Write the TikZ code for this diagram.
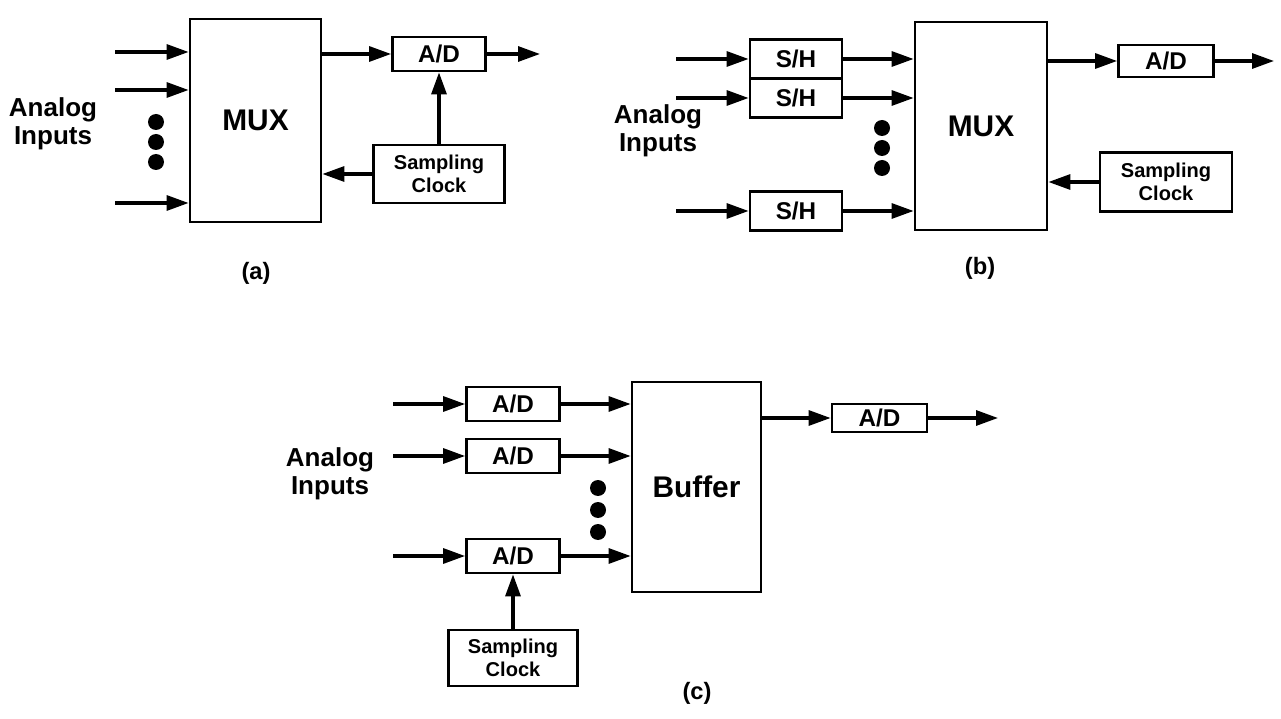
\documentclass[tikz,border=0pt]{standalone}
\usepackage{fontspec}
\setmainfont{Liberation Sans}
\usetikzlibrary{positioning,arrows.meta}

\begin{document}
\begin{tikzpicture}[
    x=0.02cm, y=-0.02cm,
    box/.style={
        draw,
        line width=1.6pt,
        minimum width=1.86cm,
        minimum height=0.68cm,
        inner sep=0pt,
        font=\fontsize{13.8}{15}\selectfont\bfseries
    },
    bigbox/.style={
        draw,
        line width=1.6pt,
        inner sep=0pt,
        font=\fontsize{17}{20}\selectfont\bfseries
    },
    clkbox/.style={
        draw,
        line width=1.6pt,
        minimum width=2.62cm,
        minimum height=1.16cm,
        inner sep=0pt,
        align=center,
        font=\fontsize{11.4}{13}\selectfont\bfseries
    },
    bigdot/.style={
        circle,
        fill,
        inner sep=0pt,
        minimum size=0.32cm
    },
    inlabel/.style={
        align=center,
        font=\fontsize{14.8}{16}\selectfont\bfseries
    },
    caption/.style={
        font=\fontsize{13.5}{15}\selectfont\bfseries
    },
    arr/.style={
        -{Triangle[length=4.4mm,width=3mm]},
        line width=1.8pt
    }
]
\useasboundingbox (0,0) rectangle (1281,719);

% ============================================================
% (a) MUX THEN ONE A/D
% ============================================================

\node[bigbox, minimum width=2.62cm, minimum height=4.06cm] (muxa) at (255.5,120.5)
{MUX};

\node[box] (ada) at (439,54)
{A/D};

\node[clkbox] (clka) at (439,174)
{Sampling\\Clock};

\node[inlabel] (ina) at (53,124)
{Analog\\Inputs};

\coordinate (ina1) at (115,52);
\coordinate (ina2) at (115,90);
\coordinate (ina3) at (115,203);
\coordinate (outa) at (540,54);

\draw[arr] (ina1) -- (ina1 -| muxa.west);
\draw[arr] (ina2) -- (ina2 -| muxa.west);
\draw[arr] (ina3) -- (ina3 -| muxa.west);

\node[bigdot] (dota1) at (156,122) {};
\node[bigdot] (dota2) at (156,142) {};
\node[bigdot] (dota3) at (156,162) {};

\draw[arr] (ada.west -| muxa.east) -- (ada.west);
\draw[arr] (ada.east) -- (outa);
\draw[arr] (clka.north) -- (ada.south);
\draw[arr] (clka.west) -- (clka.west -| muxa.east);

\node[caption] (capa) at (256,273)
{(a)};

% ============================================================
% (b) S/H ON EACH INPUT, THEN MUX AND A/D
% ============================================================

\node[box, minimum width=1.84cm, minimum height=0.78cm] (sh1) at (796,59)
{S/H};

\node[box, minimum width=1.84cm, minimum height=0.78cm] (sh2) at (796,98)
{S/H};

\node[box, minimum width=1.84cm, minimum height=0.78cm] (sh3) at (796,211)
{S/H};

\node[bigbox, minimum width=2.64cm, minimum height=4.16cm] (muxb) at (981,126)
{MUX};

\node[box, minimum width=1.9cm, minimum height=0.64cm] (adb) at (1166,61)
{A/D};

\node[clkbox, minimum width=2.64cm, minimum height=1.18cm] (clkb) at (1166,182)
{Sampling\\Clock};

\node[inlabel] (inb) at (658,131)
{Analog\\Inputs};

\coordinate (inb1) at (676,59);
\coordinate (inb2) at (676,98);
\coordinate (inb3) at (676,211);
\coordinate (outb) at (1274,61);

\draw[arr] (inb1) -- (sh1.west);
\draw[arr] (inb2) -- (sh2.west);
\draw[arr] (inb3) -- (sh3.west);

\draw[arr] (sh1.east) -- (sh1.east -| muxb.west);
\draw[arr] (sh2.east) -- (sh2.east -| muxb.west);
\draw[arr] (sh3.east) -- (sh3.east -| muxb.west);

\node[bigdot] (dotb1) at (882,128) {};
\node[bigdot] (dotb2) at (882,148) {};
\node[bigdot] (dotb3) at (882,168) {};

\draw[arr] (adb.west -| muxb.east) -- (adb.west);
\draw[arr] (adb.east) -- (outb);
\draw[arr] (clkb.west) -- (clkb.west -| muxb.east);

\node[caption] (capb) at (980,268)
{(b)};

% ============================================================
% (c) A/D ON EACH INPUT, THEN BUFFER
% ============================================================

\node[box] (adc1) at (513,404)
{A/D};

\node[box] (adc2) at (513,456)
{A/D};

\node[box] (adc3) at (513,556)
{A/D};

\node[bigbox, minimum width=2.58cm, minimum height=4.2cm] (buf) at (696.5,487)
{Buffer};

\node[box, minimum width=1.9cm, minimum height=0.56cm] (adout) at (879.5,418)
{A/D};

\node[clkbox, minimum width=2.58cm, minimum height=1.12cm] (clkc) at (513,658)
{Sampling\\Clock};

\node[inlabel] (inc) at (330,474)
{Analog\\Inputs};

\coordinate (inc1) at (393,404);
\coordinate (inc2) at (393,456);
\coordinate (inc3) at (393,556);
\coordinate (outc) at (998,418);

\draw[arr] (inc1) -- (adc1.west);
\draw[arr] (inc2) -- (adc2.west);
\draw[arr] (inc3) -- (adc3.west);

\draw[arr] (adc1.east) -- (adc1.east -| buf.west);
\draw[arr] (adc2.east) -- (adc2.east -| buf.west);
\draw[arr] (adc3.east) -- (adc3.east -| buf.west);

\node[bigdot] (dotc1) at (598,488) {};
\node[bigdot] (dotc2) at (598,510) {};
\node[bigdot] (dotc3) at (598,532) {};

\draw[arr] (clkc.north) -- (adc3.south);
\draw[arr] (adout.west -| buf.east) -- (adout.west);
\draw[arr] (adout.east) -- (outc);

\node[caption] (capc) at (697,693)
{(c)};

\end{tikzpicture}
\end{document}
